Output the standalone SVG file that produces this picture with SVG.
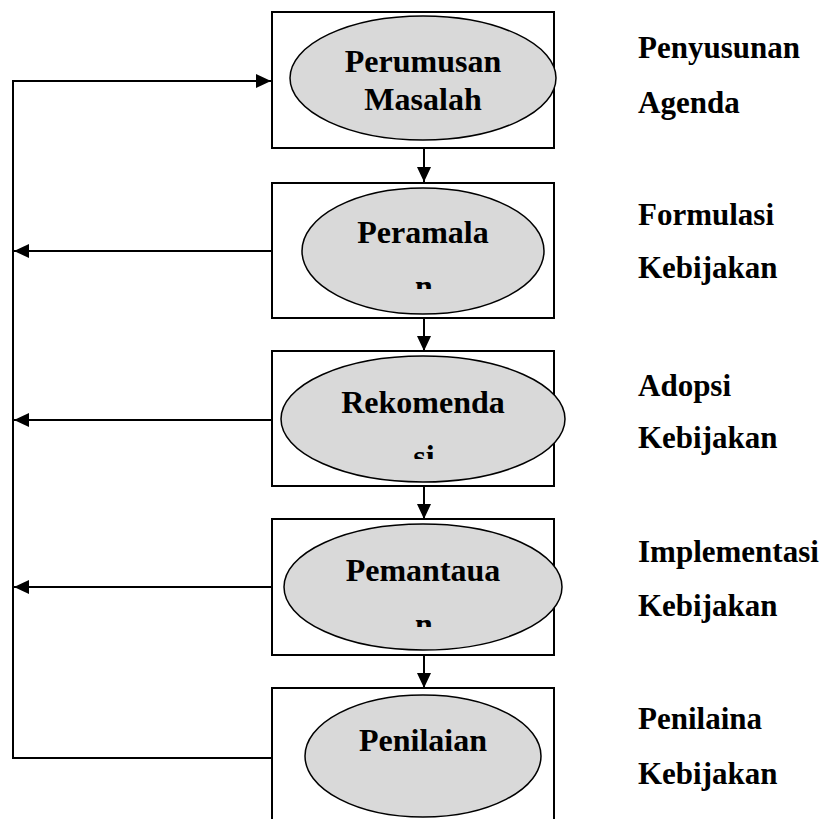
<svg xmlns="http://www.w3.org/2000/svg" width="827" height="819" viewBox="0 0 827 819">
<style>
.box{fill:#fff;stroke:#000;stroke-width:2}
.ell{fill:#d9d9d9;stroke:#000;stroke-width:1.5}
.t{font-family:"Liberation Serif","Times New Roman",serif;font-weight:bold;font-size:31px;fill:#000}
.e{font-size:32px;text-anchor:middle}
.ln{fill:none;stroke:#000;stroke-width:2}
</style>
<defs>
<marker id="ah" markerWidth="15" markerHeight="14" viewBox="0 0 15 14" refX="15" refY="7" orient="auto" markerUnits="userSpaceOnUse">
<path d="M0,0 L15,7 L0,14 Z" fill="#000"/>
</marker>
<clipPath id="c2"><rect x="300" y="180" width="250" height="109"/></clipPath>
<clipPath id="c3"><rect x="280" y="350" width="290" height="109"/></clipPath>
<clipPath id="c4"><rect x="280" y="518" width="290" height="109"/></clipPath>
</defs>
<g id="n1">
<rect class="box" x="272" y="12" width="282" height="136"/>
<ellipse class="ell" cx="423" cy="78" rx="133" ry="62"/>
<text class="t e" x="423" y="72">Perumusan</text>
<text class="t e" x="423" y="110">Masalah</text>
</g>
<g id="n2">
<rect class="box" x="272" y="183" width="282" height="135"/>
<ellipse class="ell" cx="423" cy="251" rx="121" ry="63"/>
<g clip-path="url(#c2)">
<text class="t e" x="423" y="243">Peramala</text>
<text class="t e" x="424" y="297">n</text>
</g>
</g>
<g id="n3">
<rect class="box" x="272" y="351" width="282" height="135"/>
<ellipse class="ell" cx="423" cy="419" rx="142" ry="63"/>
<g clip-path="url(#c3)">
<text class="t e" x="423" y="413">Rekomenda</text>
<text class="t e" x="424" y="467">si</text>
</g>
</g>
<g id="n4">
<rect class="box" x="272" y="519" width="282" height="136"/>
<ellipse class="ell" cx="423" cy="587" rx="139" ry="63"/>
<g clip-path="url(#c4)">
<text class="t e" x="423" y="581">Pemantaua</text>
<text class="t e" x="424" y="635">n</text>
</g>
</g>
<g id="n5">
<rect class="box" x="272" y="688" width="282" height="150"/>
<ellipse class="ell" cx="423" cy="756" rx="118" ry="61"/>
<text class="t e" x="423" y="751">Penilaian</text>
</g>
<g id="labels">
<text class="t" x="638" y="58">Penyusunan</text>
<text class="t" x="638" y="113">Agenda</text>
<text class="t" x="638" y="225">Formulasi</text>
<text class="t" x="638" y="278">Kebijakan</text>
<text class="t" x="638" y="396">Adopsi</text>
<text class="t" x="638" y="448">Kebijakan</text>
<text class="t" x="638" y="562">Implementasi</text>
<text class="t" x="638" y="616">Kebijakan</text>
<text class="t" x="638" y="729">Penilaina</text>
<text class="t" x="638" y="784">Kebijakan</text>
</g>
<g id="connectors">
<line class="ln" x1="424" y1="148" x2="424" y2="182" marker-end="url(#ah)"/>
<line class="ln" x1="424" y1="318" x2="424" y2="351" marker-end="url(#ah)"/>
<line class="ln" x1="424" y1="486" x2="424" y2="519" marker-end="url(#ah)"/>
<line class="ln" x1="424" y1="655" x2="424" y2="688" marker-end="url(#ah)"/>
<polyline class="ln" points="272,758 13,758 13,81 271,81" marker-end="url(#ah)"/>
<line class="ln" x1="272" y1="251" x2="14" y2="251" marker-end="url(#ah)"/>
<line class="ln" x1="272" y1="420" x2="14" y2="420" marker-end="url(#ah)"/>
<line class="ln" x1="272" y1="587" x2="14" y2="587" marker-end="url(#ah)"/>
</g>
</svg>
